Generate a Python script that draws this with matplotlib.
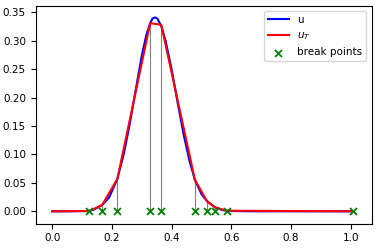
import numpy as np
import matplotlib
matplotlib.use("Agg")
import matplotlib.pyplot as plt

# u
x_u = [0.0, 0.05, 0.10, 0.124, 0.14, 0.167, 0.19, 0.218, 0.24, 0.26, 0.28, 0.30,
       0.315, 0.328, 0.336, 0.344, 0.352, 0.365, 0.38, 0.40, 0.42, 0.44, 0.46,
       0.478, 0.50, 0.518, 0.545, 0.57, 0.60, 0.65, 0.70, 0.80, 1.01]
u = [0.0, 0.0, 0.0004, 0.0005, 0.0032, 0.011, 0.024, 0.057, 0.102, 0.155, 0.215, 0.274,
     0.310, 0.331, 0.339, 0.341, 0.339, 0.326, 0.299, 0.249, 0.191, 0.135, 0.088,
     0.055, 0.030, 0.018, 0.007, 0.0021, 0.0005, 0.0001, 0.0, 0.0, 0.0]

# piecewise linear approximation
x_T = [0.0, 0.124, 0.167, 0.218, 0.328, 0.365, 0.478, 0.518, 0.545, 0.586, 1.009]
u_T = [0.0, 0.0005, 0.011, 0.057, 0.331, 0.328, 0.055, 0.018, 0.007, 0.001, 0.0]

breaks = x_T[1:]
break_vals = u_T[1:]

fig = plt.figure(figsize=(3.78, 2.48), dpi=100)
ax = fig.add_axes([0.0944, 0.098, 0.8889, 0.879])

ax.vlines(breaks, 0, break_vals, color="gray", linewidth=0.8)
ax.plot(x_u, u, color="blue", label="u")
ax.plot(x_T, u_T, color="red", label="$u_T$")
ax.scatter(breaks, np.zeros(len(breaks)), marker="x", color="green", s=25,
           linewidths=1.3, label="break points", zorder=3)

ax.set_xlim(-0.0556, 1.070)
ax.set_ylim(-0.0218, 0.3616)
ax.set_xticks([0.0, 0.2, 0.4, 0.6, 0.8, 1.0])
ax.set_yticks([0.0, 0.05, 0.10, 0.15, 0.20, 0.25, 0.30, 0.35])
ax.tick_params(labelsize=7.5)
ax.legend(loc="upper right", fontsize=7.5)

fig.savefig("out.png", dpi=100)
